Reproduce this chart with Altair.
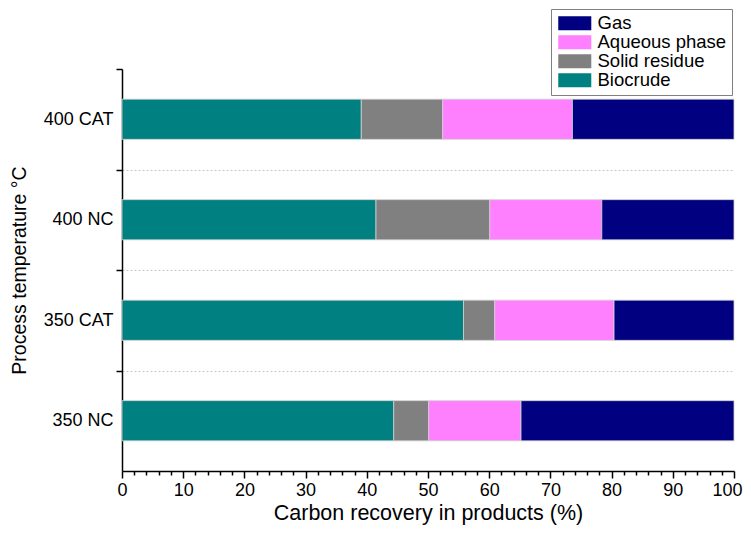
import altair as alt
import pandas as pd

conditions = ["400 CAT", "400 NC", "350 CAT", "350 NC"]
fractions = ["Biocrude", "Solid residue", "Aqueous phase", "Gas"]
biocrude = [39.1, 41.5, 55.8, 44.4]
solid = [13.3, 18.6, 5.1, 5.7]
aqueous = [21.2, 18.3, 19.5, 15.1]
gas = [26.4, 21.6, 19.6, 34.8]

legend_order = ["Gas", "Aqueous phase", "Solid residue", "Biocrude"]
colors = ["#000080", "#ff80ff", "#808080", "#008080"]

rows = []
for i, c in enumerate(conditions):
    for j, (f, vals) in enumerate(zip(fractions, [biocrude, solid, aqueous, gas])):
        rows.append({"condition": c, "fraction": f, "value": vals[i], "idx": j})
df = pd.DataFrame(rows)

FONT = "Liberation Sans"

chart = alt.Chart(df).mark_bar(stroke="#d0d0d0", strokeWidth=0.8).encode(
    y=alt.Y(
        "condition:N",
        sort=conditions,
        scale=alt.Scale(paddingInner=0.6, paddingOuter=0.3),
        axis=alt.Axis(
            title="Process temperature °C",
            titleFont=FONT, titleFontSize=19.5, titleFontWeight="normal", titleColor="black",
            titlePadding=14,
            labelFont=FONT, labelFontSize=18, labelColor="black", labelPadding=3,
            tickOffset=-50.25, labelOffset=50.25,
            tickSize=6, tickColor="black", tickWidth=1.5,
            domainColor="black", domainWidth=1.5,
            grid=True, gridDash=[2, 2], gridColor="#c8c8c8", gridWidth=1,
            gridOpacity={"condition": {"test": "datum.value === '400 CAT'", "value": 0}, "value": 1},
        ),
    ),
    x=alt.X(
        "sum(value):Q",
        stack="zero",
        scale=alt.Scale(domain=[0, 100], nice=False),
        axis=alt.Axis(
            title="Carbon recovery in products (%)",
            titleFont=FONT, titleFontSize=21.5, titleFontWeight="normal", titleColor="black",
            titlePadding=3,
            values=list(range(0, 101, 2)),
            labelExpr="datum.value % 10 === 0 ? datum.label : ''",
            labelOverlap=False, labelFlush=False,
            labelFont=FONT, labelFontSize=18, labelColor="black", labelPadding=3,
            labelAlign={"condition": {"test": "datum.value === 100", "value": "right"}, "value": "center"},
            labelOffset={"condition": {"test": "datum.value === 100", "value": 8}, "value": 0},
            tickSize={"condition": {"test": "datum.value % 10 === 0", "value": 7}, "value": 4},
            tickColor="black", tickWidth=1.5,
            domainColor="black", domainWidth=1.5,
            grid=False,
        ),
    ),
    color=alt.Color(
        "fraction:N",
        scale=alt.Scale(domain=legend_order, range=colors),
        legend=alt.Legend(
            title=None, orient="none", legendX=429, legendY=-60,
            labelFont=FONT, labelFontSize=18.5, labelColor="black",
            symbolType="M-1,-1H3.72V1H-1Z", symbolSize=196,
            symbolStrokeWidth=0, symbolOpacity=1,
            labelOffset=23, rowPadding=0,
            padding=5, strokeColor="#808080", fillColor="white",
        ),
    ),
    order=alt.Order("idx:Q", sort="ascending"),
).properties(
    width=612, height=402,
    autosize=alt.AutoSizeParams(type="none"),
    padding={"left": 114, "top": 61, "right": 9, "bottom": 55},
).configure_view(stroke=None)

chart.save("out.html", embed_options={"renderer": "svg", "actions": False})
